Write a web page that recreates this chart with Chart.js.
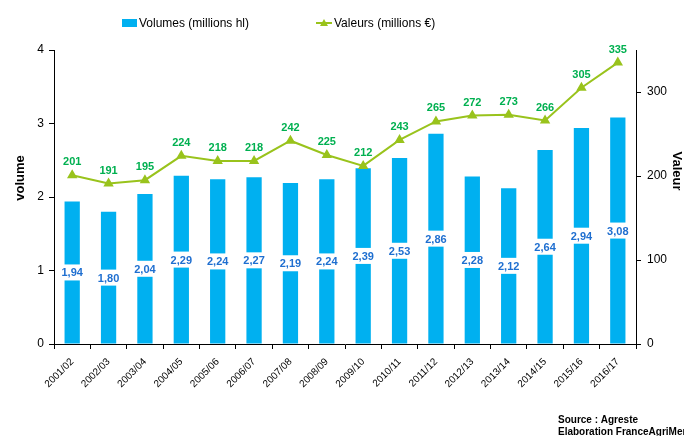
<!DOCTYPE html>
<html>
<head>
<meta charset="utf-8">
<script src="https://cdn.jsdelivr.net/npm/chart.js@4/dist/chart.umd.min.js"></script>
<style>
  html, body { margin: 0; padding: 0; background: #fff; }
  #wrap { width: 684px; height: 436px; position: relative; }
</style>
</head>
<body>
<div id="wrap"><canvas id="chart"></canvas></div>
<script>
const campagnes = ['2001/02', '2002/03', '2003/04', '2004/05', '2005/06', '2006/07', '2007/08', '2008/09',
                   '2009/10', '2010/11', '2011/12', '2012/13', '2013/14', '2014/15', '2015/16', '2016/17'];
const volumes = [1.94, 1.80, 2.04, 2.29, 2.24, 2.27, 2.19, 2.24, 2.39, 2.53, 2.86, 2.28, 2.12, 2.64, 2.94, 3.08];
const valeurs = [201, 191, 195, 224, 218, 218, 242, 225, 212, 243, 265, 272, 273, 266, 305, 335];
const volumeTicks = [0, 1, 2, 3, 4];
const valeurTicks = [0, 100, 200, 300];

const BLEU = '#00b0f0';
const VERT_LIGNE = '#99c31c';
const VERT_TEXTE = '#00b050';
const BLEU_TEXTE = '#1f6fd0';
const FONT = '"Liberation Sans", Arial, sans-serif';

// etiquettes des valeurs + legende + titres d'axes + source
const habillage = {
    id: 'habillage',
    afterDatasetsDraw(chart) {
        const ctx = chart.ctx;
        ctx.save();
        ctx.textAlign = 'center';
        ctx.textBaseline = 'middle';

        // barres : etiquette au milieu sur fond blanc
        const barres = chart.getDatasetMeta(1);
        ctx.font = 'bold 11px ' + FONT;
        barres.data.forEach((bar, i) => {
            const txt = volumes[i].toFixed(2).replace('.', ',');
            const y = (bar.y + bar.base) / 2;
            const w = ctx.measureText(txt).width + 2;
            ctx.fillStyle = '#fff';
            ctx.fillRect(bar.x - w / 2, y - 8, w, 16);
            ctx.fillStyle = BLEU_TEXTE;
            ctx.fillText(txt, bar.x, y + 1);
        });

        // ligne : etiquette au dessus
        const ligne = chart.getDatasetMeta(0);
        ligne.data.forEach((pt, i) => {
            ctx.fillStyle = VERT_TEXTE;
            ctx.fillText(String(valeurs[i]), pt.x, pt.y - 13);
        });

        // titres des axes
        ctx.fillStyle = '#000';
        ctx.font = 'bold 13px ' + FONT;
        ctx.save();
        ctx.translate(20, 178);
        ctx.rotate(-Math.PI / 2);
        ctx.fillText('volume', 0, 0);
        ctx.restore();
        ctx.save();
        ctx.translate(677, 171);
        ctx.rotate(Math.PI / 2);
        ctx.fillText('Valeur', 0, 0);
        ctx.restore();

        // legende
        ctx.font = '12px ' + FONT;
        ctx.textAlign = 'left';
        ctx.fillStyle = BLEU;
        ctx.fillRect(122, 19, 15, 8);
        ctx.fillStyle = '#000';
        ctx.fillText(chart.data.datasets[1].label, 139, 24);

        ctx.strokeStyle = VERT_LIGNE;
        ctx.lineWidth = 2;
        ctx.beginPath();
        ctx.moveTo(316, 23);
        ctx.lineTo(332, 23);
        ctx.stroke();
        ctx.fillStyle = VERT_LIGNE;
        ctx.beginPath();
        ctx.moveTo(324, 19);
        ctx.lineTo(328, 26);
        ctx.lineTo(320, 26);
        ctx.closePath();
        ctx.fill();
        ctx.fillStyle = '#000';
        ctx.fillText(chart.data.datasets[0].label, 334, 24);

        // source
        ctx.font = 'bold 10px ' + FONT;
        ctx.fillText('Source : Agreste', 558, 420);
        ctx.fillText('Elaboration FranceAgriMer', 558, 432);
        ctx.restore();
    }
};

new Chart(document.getElementById('chart'), {
    data: {
        labels: campagnes,
        datasets: [{
            type: 'line',
            label: 'Valeurs (millions €)',
            data: valeurs,
            yAxisID: 'y1',
            borderColor: VERT_LIGNE,
            backgroundColor: VERT_LIGNE,
            borderWidth: 2,
            tension: 0,
            pointStyle: 'triangle',
            pointRadius: 4,
            pointBackgroundColor: VERT_LIGNE,
            pointBorderColor: VERT_LIGNE,
            order: 0
        }, {
            type: 'bar',
            label: 'Volumes (millions hl)',
            data: volumes,
            yAxisID: 'y',
            backgroundColor: BLEU,
            barPercentage: 0.42,
            categoryPercentage: 1,
            order: 1
        }]
    },
    options: {
        responsive: true,
        maintainAspectRatio: false,
        animation: false,
        layout: { padding: { top: 50, left: 0, right: 0, bottom: 0 } },
        plugins: {
            legend: { display: false },
            tooltip: { enabled: false }
        },
        scales: {
            x: {
                offset: true,
                grid: {
                    offset: true,
                    drawOnChartArea: false,
                    color: '#000',
                    tickLength: 5
                },
                border: { color: '#000', width: 1 },
                ticks: {
                    color: '#000',
                    font: { family: FONT, size: 10 },
                    minRotation: 45,
                    maxRotation: 45,
                    padding: 7
                },
                afterFit(axis) { axis.height = 92; }
            },
            y: {
                position: 'left',
                min: 0,
                max: 4,
                afterBuildTicks(axis) { axis.ticks = volumeTicks.map(v => ({ value: v })); },
                grid: { drawOnChartArea: false, color: '#000', tickLength: 5 },
                border: { color: '#000', width: 1 },
                ticks: {
                    color: '#000',
                    font: { family: FONT, size: 12 },
                    padding: 5
                },
                afterFit(axis) { axis.width = 54; }
            },
            y1: {
                position: 'right',
                min: 0,
                max: 350,
                afterBuildTicks(axis) { axis.ticks = valeurTicks.map(v => ({ value: v })); },
                grid: { drawOnChartArea: false, color: '#000', tickLength: 5 },
                border: { color: '#000', width: 1 },
                ticks: {
                    color: '#000',
                    font: { family: FONT, size: 12 },
                    padding: 6
                },
                afterFit(axis) { axis.width = 48; }
            }
        }
    },
    plugins: [habillage]
});
</script>
</body>
</html>
